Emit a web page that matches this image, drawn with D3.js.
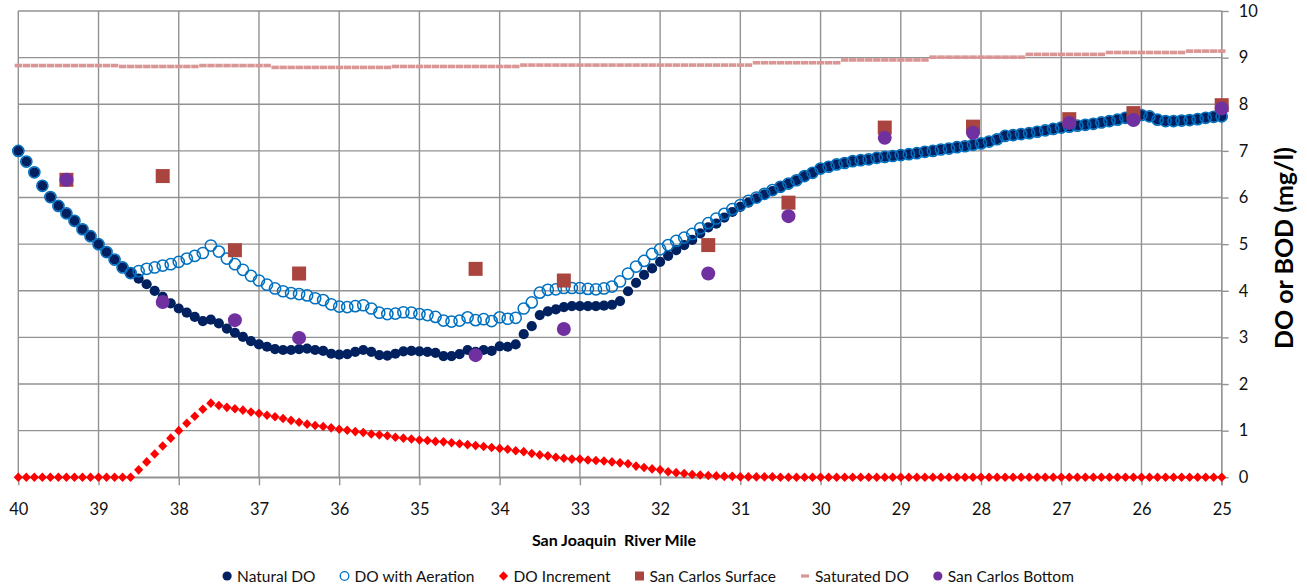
<!DOCTYPE html>
<html>
<head>
<meta charset="utf-8">
<script src="https://cdn.jsdelivr.net/npm/d3@7"></script>
<style>
body { margin: 0; background: #fff; }
svg { display: block; font-family: Lato, "Open Sans", sans-serif; }
</style>
</head>
<body>
<div id="chart-area"></div>
<script>
// model output every 0.1 river mile, from mile 40 down to mile 25
const MILE_START = 40
const MILE_STEP = 0.1

const naturalDO = [
	7.00,6.77,6.54,6.25,6.01,5.82,5.66,5.50,5.32,5.17,
	5.00,4.83,4.67,4.50,4.38,4.26,4.14,4.00,3.87,3.73,
	3.62,3.53,3.44,3.35,3.38,3.30,3.19,3.10,3.01,2.92,
	2.85,2.80,2.75,2.73,2.73,2.75,2.76,2.73,2.71,2.65,
	2.63,2.64,2.69,2.73,2.69,2.62,2.61,2.65,2.70,2.71,
	2.70,2.69,2.67,2.60,2.60,2.64,2.73,2.69,2.73,2.71,
	2.81,2.80,2.85,3.07,3.24,3.48,3.56,3.60,3.65,3.67,
	3.67,3.67,3.67,3.68,3.70,3.78,3.99,4.17,4.34,4.48,
	4.62,4.75,4.87,4.98,5.09,5.23,5.36,5.44,5.57,5.69,
	5.80,5.89,5.98,6.07,6.14,6.23,6.30,6.37,6.46,6.53,
	6.62,6.66,6.71,6.74,6.78,6.80,6.82,6.85,6.87,6.89,
	6.91,6.93,6.95,6.98,7.00,7.03,7.05,7.08,7.10,7.13,
	7.16,7.20,7.25,7.32,7.34,7.36,7.38,7.41,7.44,7.47,
	7.50,7.52,7.54,7.56,7.58,7.61,7.64,7.67,7.71,7.75,
	7.77,7.74,7.67,7.64,7.64,7.65,7.66,7.68,7.71,7.73,
	7.74
]

const aerationDO = [
	7.00,6.77,6.54,6.25,6.01,5.82,5.66,5.50,5.32,5.17,
	5.00,4.83,4.67,4.50,4.38,4.42,4.47,4.50,4.54,4.57,
	4.62,4.69,4.75,4.81,4.97,4.84,4.69,4.57,4.45,4.32,
	4.22,4.13,4.05,3.99,3.95,3.93,3.90,3.84,3.80,3.71,
	3.66,3.65,3.67,3.69,3.62,3.53,3.50,3.51,3.54,3.53,
	3.50,3.48,3.44,3.36,3.34,3.36,3.43,3.37,3.39,3.35,
	3.43,3.40,3.42,3.62,3.75,3.96,4.02,4.03,4.06,4.06,
	4.06,4.04,4.03,4.05,4.09,4.20,4.37,4.52,4.64,4.79,
	4.89,4.98,5.07,5.14,5.22,5.34,5.45,5.55,5.65,5.75,
	5.84,5.93,6.00,6.08,6.16,6.23,6.30,6.37,6.46,6.53,
	6.62,6.66,6.71,6.74,6.78,6.80,6.82,6.85,6.87,6.89,
	6.91,6.93,6.95,6.98,7.00,7.03,7.05,7.08,7.10,7.13,
	7.16,7.20,7.25,7.32,7.34,7.36,7.38,7.41,7.44,7.47,
	7.50,7.52,7.54,7.56,7.58,7.61,7.64,7.67,7.71,7.75,
	7.77,7.74,7.67,7.64,7.64,7.65,7.66,7.68,7.71,7.73,
	7.74
]

const doIncrement = [
	0,0,0,0,0,0,0,0,0,0,
	0,0,0,0,0,0.16,0.33,0.50,0.67,0.84,
	1.00,1.16,1.31,1.46,1.59,1.54,1.50,1.47,1.44,1.40,
	1.37,1.33,1.30,1.26,1.22,1.18,1.14,1.11,1.09,1.06,
	1.03,1.01,0.98,0.96,0.93,0.91,0.89,0.86,0.84,0.82,
	0.80,0.79,0.77,0.76,0.74,0.72,0.70,0.68,0.66,0.64,
	0.62,0.60,0.57,0.55,0.51,0.48,0.46,0.43,0.41,0.39,
	0.39,0.37,0.36,0.35,0.33,0.31,0.29,0.24,0.21,0.18,
	0.16,0.12,0.10,0.08,0.06,0.05,0.04,0.03,0.02,0.02,
	0.01,0.01,0.01,0.01,0.01,0,0,0,0,0,
	0,0,0,0,0,0,0,0,0,0,
	0,0,0,0,0,0,0,0,0,0,
	0,0,0,0,0,0,0,0,0,0,
	0,0,0,0,0,0,0,0,0,0,
	0,0,0,0,0,0,0,0,0,0,
	0
]

const saturatedDO = [
	8.83,8.83,8.83,8.83,8.83,8.83,8.83,8.83,8.83,8.83,
	8.83,8.83,8.83,8.81,8.81,8.81,8.81,8.81,8.81,8.81,
	8.81,8.81,8.81,8.83,8.83,8.83,8.83,8.83,8.83,8.83,
	8.83,8.83,8.79,8.79,8.79,8.79,8.79,8.79,8.79,8.79,
	8.79,8.79,8.79,8.79,8.79,8.79,8.79,8.81,8.81,8.81,
	8.81,8.81,8.81,8.81,8.81,8.81,8.81,8.81,8.81,8.81,
	8.81,8.81,8.81,8.84,8.84,8.84,8.84,8.84,8.84,8.84,
	8.84,8.84,8.84,8.84,8.84,8.84,8.84,8.84,8.84,8.84,
	8.84,8.84,8.84,8.84,8.84,8.84,8.84,8.84,8.84,8.84,
	8.84,8.84,8.89,8.89,8.89,8.89,8.89,8.89,8.89,8.89,
	8.89,8.89,8.89,8.95,8.95,8.95,8.95,8.95,8.95,8.95,
	8.95,8.95,8.95,8.95,9.01,9.01,9.01,9.01,9.01,9.01,
	9.01,9.01,9.01,9.01,9.01,9.01,9.07,9.07,9.07,9.07,
	9.07,9.07,9.07,9.07,9.07,9.07,9.11,9.11,9.11,9.11,
	9.11,9.11,9.11,9.11,9.11,9.11,9.14,9.14,9.14,9.14,
	9.14
]

// San Carlos field samples
const sampleMiles = [39.4, 38.2, 37.3, 36.5, 34.3, 33.2, 31.4, 30.4, 29.2, 28.1, 26.9, 26.1, 25.0]
const surfaceDO = [6.38, 6.46, 4.87, 4.37, 4.47, 4.22, 4.98, 5.89, 7.50, 7.52, 7.68, 7.81, 7.98]
const bottomDO = [6.38, 3.76, 3.37, 2.99, 2.62, 3.18, 4.37, 5.60, 7.28, 7.39, 7.60, 7.66, 7.91]

const xTicks = [40, 39, 38, 37, 36, 35, 34, 33, 32, 31, 30, 29, 28, 27, 26, 25]
const yTicks = [0, 1, 2, 3, 4, 5, 6, 7, 8, 9, 10]

const legendLabels = ["Natural DO", "DO with Aeration", "DO Increment", "San Carlos Surface", "Saturated DO", "San Carlos Bottom"]

const WIDTH = 1307
const HEIGHT = 588
const PLOT = { LEFT: 18.3, RIGHT: 1221.7, TOP: 11, BOTTOM: 477.3 }
const GRID = "#929292"

const svg = d3.select("#chart-area").append("svg")
	.attr("width", WIDTH)
	.attr("height", HEIGHT)

const x = d3.scaleLinear()
	.domain([40, 25])
	.range([PLOT.LEFT, PLOT.RIGHT])

const y = d3.scaleLinear()
	.domain([0, 10])
	.range([PLOT.BOTTOM, PLOT.TOP])

const mileAt = i => MILE_START - i * MILE_STEP
const profile = arr => arr.map((v, i) => ({ mile: mileAt(i), value: v }))
const samples = arr => arr.map((v, i) => ({ mile: sampleMiles[i], value: v }))

// gridlines
svg.append("g").selectAll("line")
	.data(xTicks)
	.enter().append("line")
	.attr("x1", d => x(d)).attr("x2", d => x(d))
	.attr("y1", PLOT.TOP).attr("y2", PLOT.BOTTOM)
	.attr("stroke", GRID).attr("stroke-width", 1.4)

svg.append("g").selectAll("line")
	.data(yTicks)
	.enter().append("line")
	.attr("x1", PLOT.LEFT).attr("x2", PLOT.RIGHT)
	.attr("y1", d => y(d)).attr("y2", d => y(d))
	.attr("stroke", GRID).attr("stroke-width", 1.4)

// X axis
const xAxisGroup = svg.append("g")
	.attr("transform", `translate(0, ${PLOT.BOTTOM})`)
	.call(d3.axisBottom(x).tickValues(xTicks).tickSizeInner(8).tickSizeOuter(0).tickPadding(18))
xAxisGroup.selectAll("path, line").attr("stroke", GRID).attr("stroke-width", 1.4)
xAxisGroup.selectAll("text").attr("font-size", "16.5px").attr("fill", "#111").style("font-family", "Lato")

// Y axis on the right
const yAxisGroup = svg.append("g")
	.attr("transform", `translate(${PLOT.RIGHT}, 0)`)
	.call(d3.axisRight(y).tickValues(yTicks).tickSizeInner(7).tickSizeOuter(0).tickPadding(10))
yAxisGroup.select(".domain").attr("stroke", GRID).attr("stroke-width", 1.4)
	.attr("d", `M0,${PLOT.TOP}V${PLOT.BOTTOM + 8}`)
yAxisGroup.selectAll("line").attr("stroke", GRID).attr("stroke-width", 1.4)
yAxisGroup.selectAll("text").attr("font-size", "16.5px").attr("fill", "#111").style("font-family", "Lato")

// axis titles
svg.append("text")
	.attr("x", 614)
	.attr("y", 546)
	.attr("text-anchor", "middle")
	.attr("font-size", "16px")
	.attr("font-weight", "bold")
	.style("white-space", "pre")
	.text("San Joaquin  River Mile")

svg.append("text")
	.attr("transform", `translate(1293, ${(PLOT.TOP + PLOT.BOTTOM) / 2 + 4}) rotate(-90)`)
	.attr("text-anchor", "middle")
	.attr("font-size", "25px")
	.attr("font-weight", "bold")
	.text("DO or BOD (mg/l)")

// series
const diamond = "M0,-4.8L4.6,0L0,4.8L-4.6,0Z"

svg.append("g").selectAll("circle")
	.data(profile(naturalDO))
	.enter().append("circle")
	.attr("cx", d => x(d.mile))
	.attr("cy", d => y(d.value))
	.attr("r", 5.1)
	.attr("fill", "#002060")

svg.append("g").selectAll("circle")
	.data(profile(aerationDO))
	.enter().append("circle")
	.attr("cx", d => x(d.mile))
	.attr("cy", d => y(d.value))
	.attr("r", 5.6)
	.attr("fill", "none")
	.attr("stroke", "#0070C0")
	.attr("stroke-width", 1.5)

svg.append("g").selectAll("path")
	.data(profile(doIncrement))
	.enter().append("path")
	.attr("transform", d => `translate(${x(d.mile)}, ${y(d.value)})`)
	.attr("d", diamond)
	.attr("fill", "#FF0000")

svg.append("g").selectAll("rect")
	.data(samples(surfaceDO))
	.enter().append("rect")
	.attr("x", d => x(d.mile) - 7)
	.attr("y", d => y(d.value) - 7)
	.attr("width", 14)
	.attr("height", 14)
	.attr("fill", "#A9443F")

svg.append("g").selectAll("rect")
	.data(profile(saturatedDO))
	.enter().append("rect")
	.attr("x", d => x(d.mile) - 3.6)
	.attr("y", d => y(d.value) - 1.8)
	.attr("width", 7.4)
	.attr("height", 3.6)
	.attr("fill", "#D99694")

svg.append("g").selectAll("circle")
	.data(samples(bottomDO))
	.enter().append("circle")
	.attr("cx", d => x(d.mile))
	.attr("cy", d => y(d.value))
	.attr("r", 7)
	.attr("fill", "#7030A0")

// legend
const legendMarks = [
	g => g.append("circle").attr("r", 4.6).attr("fill", "#002060"),
	g => g.append("circle").attr("r", 4.3).attr("fill", "none").attr("stroke", "#0070C0").attr("stroke-width", 1.3),
	g => g.append("path").attr("d", diamond).attr("fill", "#FF0000"),
	g => g.append("rect").attr("x", -4.5).attr("y", -4.5).attr("width", 9).attr("height", 9).attr("fill", "#A9443F"),
	g => g.append("rect").attr("x", -4).attr("y", -1.6).attr("width", 8).attr("height", 3.2).attr("fill", "#D99694"),
	g => g.append("circle").attr("r", 4.6).attr("fill", "#7030A0")
]

const legend = svg.append("g")
let cursor = 0
legendLabels.forEach((label, i) => {
	const item = legend.append("g").attr("transform", `translate(${cursor}, 0)`)
	legendMarks[i](item.append("g").attr("transform", "translate(5, 0)"))
	const t = item.append("text")
		.attr("x", 15)
		.attr("y", 5.5)
		.attr("font-size", "15.5px")
		.attr("fill", "#111")
		.text(label)
	cursor += 15 + t.node().getComputedTextLength() + 24
})
const legendWidth = cursor - 24
legend.attr("transform", `translate(${648 - legendWidth / 2}, 576)`)
</script>
</body>
</html>
